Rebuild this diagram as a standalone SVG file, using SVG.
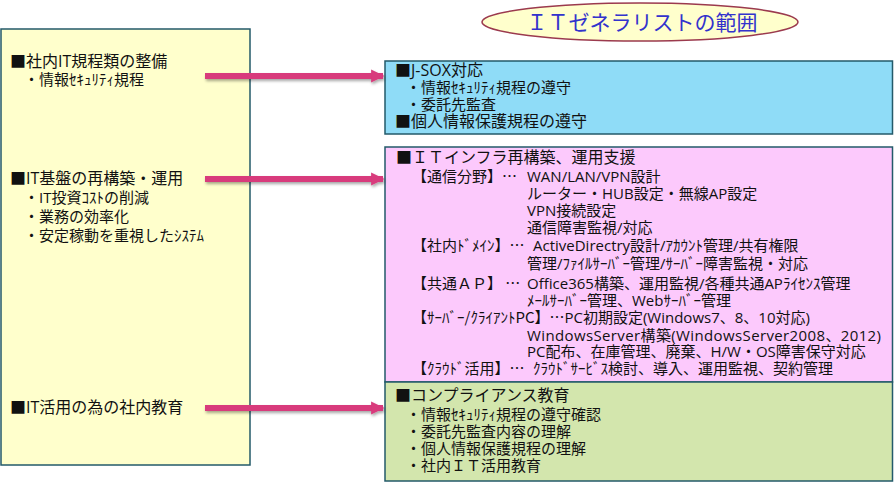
<svg xmlns="http://www.w3.org/2000/svg" width="894" height="485" viewBox="0 0 894 485">
<style>
text{font-family:"Open Sans","Noto Sans CJK JP",sans-serif;fill:#111;}
.h{font-size:16px;}
.s{font-size:15px;}
.p{font-size:15px;}
.lab{font-family:"Noto Sans CJK JP",sans-serif;}
.box{stroke:#235a6a;stroke-width:1.5;}
.title{font-size:21px;fill:#3333cc;font-family:"Noto Sans CJK JP",sans-serif;}
.arr{fill:none;stroke:#d83a7c;stroke-width:6;}
</style>
<defs>
<marker id="ah" viewBox="0 0 10 10" refX="9" refY="5" markerWidth="2.2" markerHeight="2.2" orient="auto" markerUnits="strokeWidth">
<path d="M0,0 L10,5 L0,10 z" fill="#d83a7c"/>
</marker>
<filter id="sh" x="-10%" y="-100%" width="120%" height="300%">
<feDropShadow dx="1" dy="2" stdDeviation="1.5" flood-color="#000" flood-opacity="0.35"/>
</filter>
</defs>

<g id="left-panel">
<rect class="box" x="1" y="29" width="249" height="436" fill="#ffffcc"/>
<text class="h" x="10" y="67">■社内IT規程類の整備</text>
<text class="s" x="24" y="85">・情報ｾｷｭﾘﾃｨ規程</text>
<text class="h" x="10" y="184">■IT基盤の再構築・運用</text>
<text class="s" x="24" y="203">・IT投資ｺｽﾄの削減</text>
<text class="s" x="24" y="222">・業務の効率化</text>
<text class="s" x="24" y="241">・安定稼動を重視したｼｽﾃﾑ</text>
<text class="h" x="10" y="413">■IT活用の為の社内教育</text>
</g>

<g id="title">
<ellipse cx="640" cy="22" rx="158" ry="19" fill="#ffffcc" stroke="#9b3a4e" stroke-width="1.5"/>
<text class="title" x="642" y="30" text-anchor="middle">ＩＴゼネラリストの範囲</text>
</g>

<g id="box-jsox">
<rect class="box" x="385" y="61" width="507.5" height="73" fill="#8fdcf7"/>
<text class="h" x="395" y="76">■J-SOX対応</text>
<text class="s" x="406" y="93">・情報ｾｷｭﾘﾃｨ規程の遵守</text>
<text class="s" x="406" y="110">・委託先監査</text>
<text class="h" x="395" y="127">■個人情報保護規程の遵守</text>
</g>

<g id="box-infra">
<rect class="box" x="385" y="147" width="507.5" height="235" fill="#fcc9fc"/>
<text class="h lab" x="396" y="163">■ＩＴインフラ再構築、運用支援</text>
<text class="p lab" x="412" y="182">【通信分野】…</text>
<text class="p" x="527" y="182">WAN/LAN/VPN設計</text>
<text class="p" x="527" y="199">ルーター・HUB設定・無線AP設定</text>
<text class="p" x="527" y="216">VPN接続設定</text>
<text class="p" x="527" y="233">通信障害監視/対応</text>
<text class="p lab" x="412" y="251">【社内ﾄﾞﾒｲﾝ】…</text>
<text class="p" x="533" y="251">ActiveDirectry設計/ｱｶｳﾝﾄ管理/共有権限</text>
<text class="p" x="527" y="269">管理/ﾌｧｲﾙｻｰﾊﾞｰ管理/ｻｰﾊﾞｰ障害監視・対応</text>
<text class="p lab" x="412" y="289">【共通ＡＰ】 …</text>
<text class="p" x="527" y="289">Office365構築、運用監視/各種共通APﾗｲｾﾝｽ管理</text>
<text class="p" x="527" y="306">ﾒｰﾙｻｰﾊﾞｰ管理、Webｻｰﾊﾞｰ管理</text>
<text class="p lab" x="412" y="323">【ｻｰﾊﾞｰ/ｸﾗｲｱﾝﾄPC】…<tspan font-family="Open Sans, Noto Sans CJK JP, sans-serif">PC初期設定(Windows7、8、10対応)</tspan></text>
<text class="p" x="527" y="341" textLength="354" lengthAdjust="spacing">WindowsServer構築(WindowsServer2008、2012)</text>
<text class="p" x="527" y="357">PC配布、在庫管理、廃棄、H/W・OS障害保守対応</text>
<text class="p lab" x="412" y="374">【ｸﾗｳﾄﾞ活用】…</text>
<text class="p" x="533" y="374">ｸﾗｳﾄﾞｻｰﾋﾞｽ検討、導入、運用監視、契約管理</text>
</g>

<g id="box-edu">
<rect class="box" x="385" y="382" width="507.5" height="99" fill="#d3e6ad"/>
<text class="h" x="395" y="401">■コンプライアンス教育</text>
<text class="s" x="406" y="420">・情報ｾｷｭﾘﾃｨ規程の遵守確認</text>
<text class="s" x="406" y="437">・委託先監査内容の理解</text>
<text class="s" x="406" y="454">・個人情報保護規程の理解</text>
<text class="s" x="406" y="471">・社内ＩＴ活用教育</text>
</g>

<g id="connectors" filter="url(#sh)">
<path class="arr" d="M205,76 H383" marker-end="url(#ah)"/>
<path class="arr" d="M205,179 H383" marker-end="url(#ah)"/>
<path class="arr" d="M205,408 H383" marker-end="url(#ah)"/>
</g>
</svg>
